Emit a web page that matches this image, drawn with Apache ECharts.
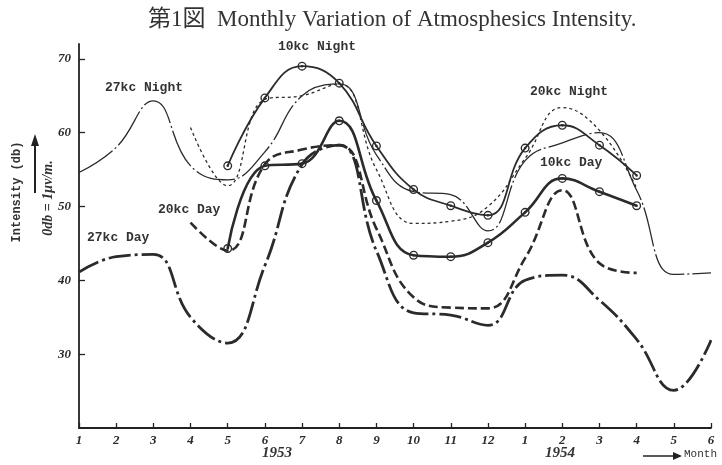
<!DOCTYPE html>
<html><head><meta charset="utf-8">
<script src="https://cdn.jsdelivr.net/npm/echarts@6/dist/echarts.min.js"></script>
<style>html,body{margin:0;padding:0;background:#fff}#c{width:722px;height:465px}</style>
</head><body><div id="c"></div>
<script>
// x positions: Jan 1953 (0) ... Jun 1954 (17)
const monthLabels = ['1','2','3','4','5','6','7','8','9','10','11','12','1','2','3','4','5','6'];
const yTicks = [30, 40, 50, 60, 70];
const night10 = [null,null,null,null,55.5,64.7,69.0,66.7,58.2,52.3,50.1,48.8,57.9,61.0,58.3,54.2,null,null];
const day10   = [null,null,null,null,44.3,55.5,55.8,61.6,50.8,43.4,43.2,45.1,49.2,53.8,52.0,50.1,null,null];
const night20 = [null,null,null,60.7,52.8,64.5,65.0,66.6,55.0,47.7,48.0,50.0,56.5,63.4,60.3,52.5,null,null];
const day20   = [null,null,null,47.8,44.0,55.7,57.7,58.3,47.0,37.7,36.3,36.2,43.0,52.2,42.3,41.0,null,null];
const night27 = [54.6,58.0,64.3,55.5,53.6,57.4,65.0,66.6,57.0,52.0,51.6,46.7,56.2,58.6,60.0,52.2,40.8,41.0];
const day27   = [41.1,43.2,43.5,35.0,31.5,42.0,55.7,58.3,44.0,35.6,35.3,33.9,40.0,40.7,37.3,32.0,25.1,31.9];

const ring = 'path://M0,-10A10,10 0 1,1 0,10A10,10 0 1,1 0,-10Z M0,-7A7,7 0 1,0 0,7A7,7 0 1,0 0,-7Z M0,-2.8A2.8,2.8 0 1,1 0,2.8A2.8,2.8 0 1,1 0,-2.8Z';
const filledIdx = {night10: [13]};
const noMarkIdx = {day10: [12]};

function pts(arr, name) {
  return arr.map((v, i) => {
    if (v === null) return [i, null];
    const item = {value: [i, v]};
    if ((filledIdx[name] || []).includes(i)) item.symbol = 'circle';
    if ((noMarkIdx[name] || []).includes(i)) item.symbol = 'none';
    return item;
  });
}

const ink = '#2b2b2b';
function mk(name, arr, lineType, width, marker) {
  return {
    type: 'line', name: name, data: pts(arr, name), smooth: 0.45,
    connectNulls: false,
    symbol: marker ? ring : 'none', symbolSize: 9,
    showAllSymbol: true,
    itemStyle: {color: ink},
    lineStyle: {color: ink, width: width, type: lineType},
    z: marker ? 5 : 3
  };
}

const chart = echarts.init(document.getElementById('c'), null, {renderer: 'canvas'});
const mono = '"Liberation Mono", "DejaVu Sans Mono", monospace';
const hand = '"Liberation Serif", "DejaVu Serif", serif';

chart.setOption({
  backgroundColor: '#ffffff',
  animation: false,
  grid: {left: 79, right: 11, top: 44, bottom: 37},
  xAxis: {
    type: 'value', min: 0, max: 17, interval: 1,
    axisLine: {lineStyle: {color: '#222', width: 1.8}},
    axisTick: {inside: true, length: 5, lineStyle: {color: '#222', width: 1.3}},
    splitLine: {show: false},
    axisLabel: {
      margin: 6, color: '#2a2a2a', fontFamily: hand, fontStyle: 'italic', fontWeight: 'bold', fontSize: 13,
      formatter: v => monthLabels[Math.round(v)] || ''
    }
  },
  yAxis: {
    type: 'value', min: 20, max: 72, interval: 10,
    axisLine: {show: true, lineStyle: {color: '#222', width: 1.8}},
    axisTick: {show: true, inside: true, length: 6, customValues: yTicks, lineStyle: {color: '#222', width: 1.3}},
    splitLine: {show: false},
    axisLabel: {
      customValues: yTicks, margin: 8, color: '#2a2a2a', fontFamily: hand, fontStyle: 'italic', fontWeight: 'bold', fontSize: 13
    }
  },
  series: [
    mk('27kc Day', day27, [22, 4, 3, 4], 2.8, false),
    mk('20kc Day', day20, [9, 4], 2.6, false),
    mk('20kc Night', night20, [3, 3], 1.3, false),
    mk('27kc Night', night27, [40, 3, 2, 3], 1.3, false),
    mk('10kc Day', day10, 'solid', 2.6, true),
    mk('10kc Night', night10, 'solid', 1.8, true)
  ],
  graphic: [
    {type: 'text', left: 148, top: 8, style: {
      text: '第1図  Monthly Variation of Atmosphesics Intensity.',
      font: '23px "Liberation Serif", "Noto Sans CJK JP", serif', fill: '#333'}},
    {type: 'text', left: 278, top: 40, style: {text: '10kc Night', font: 'bold 13px ' + mono, fill: '#333'}},
    {type: 'text', left: 105, top: 81, style: {text: '27kc Night', font: 'bold 13px ' + mono, fill: '#333'}},
    {type: 'text', left: 530, top: 85, style: {text: '20kc Night', font: 'bold 13px ' + mono, fill: '#333'}},
    {type: 'text', left: 540, top: 156, style: {text: '10kc Day', font: 'bold 13px ' + mono, fill: '#333'}},
    {type: 'text', left: 158, top: 203, style: {text: '20kc Day', font: 'bold 13px ' + mono, fill: '#333'}},
    {type: 'text', left: 87, top: 231, style: {text: '27kc Day', font: 'bold 13px ' + mono, fill: '#333'}},
    {type: 'text', x: 17, y: 192, rotation: Math.PI / 2, style: {
      text: 'Intensity (db)', font: 'bold 12px ' + mono, fill: '#333', textAlign: 'center', textVerticalAlign: 'middle'}},
    {type: 'text', x: 48, y: 198, rotation: Math.PI / 2, style: {
      text: '0db = 1μν/m.', font: 'italic bold 14px ' + hand, fill: '#333', textAlign: 'center', textVerticalAlign: 'middle'}},
    {type: 'line', shape: {x1: 35, y1: 193, x2: 35, y2: 142}, style: {stroke: '#222', lineWidth: 2}},
    {type: 'polygon', shape: {points: [[35, 134], [31, 146], [39, 146]]}, style: {fill: '#222'}},
    {type: 'text', left: 262, top: 446, style: {text: '1953', font: 'italic bold 15px ' + hand, fill: '#333'}},
    {type: 'text', left: 545, top: 446, style: {text: '1954', font: 'italic bold 15px ' + hand, fill: '#333'}},
    {type: 'line', shape: {x1: 643, y1: 456, x2: 675, y2: 456}, style: {stroke: '#222', lineWidth: 1.5}},
    {type: 'polygon', shape: {points: [[682, 456], [673, 452], [673, 460]]}, style: {fill: '#222'}},
    {type: 'text', left: 684, top: 449, style: {text: 'Month', font: '11px ' + mono, fill: '#333'}}
  ]
});
</script></body></html>
